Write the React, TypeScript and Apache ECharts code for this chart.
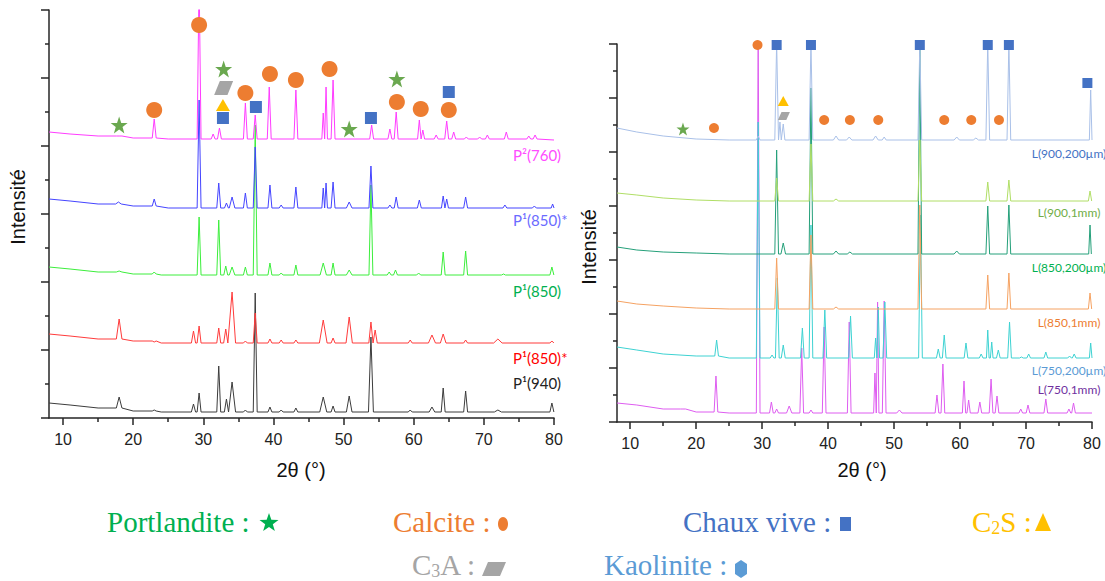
import React, { useEffect, useRef } from "react";
import * as echarts from "echarts";

// ---------------- axes ----------------
const X_TICKS = [10, 20, 30, 40, 50, 60, 70, 80];
const X_MINOR = [15, 25, 35, 45, 55, 65, 75];
const X_TITLE = "2θ (°)";
const Y_TITLE = "Intensité";

// ---------------- left panel (P samples) : [2θ, counts] ----------------
// peaks: [2θ, apex, halfWidth?]
const P940_BASE = [[8, 15], [11, 13], [15, 10], [20, 7], [24, 6], [80, 6]];
const P940_PEAKS = [
  [18.0, 21, 0.4], [23.0, 8], [28.6, 14, 0.3], [29.4, 25], [32.2, 52], [33.3, 19, 0.3],
  [34.1, 36, 0.5], [36.0, 8], [37.4, 125], [39.5, 11], [41.1, 8], [43.2, 10],
  [47.1, 21, 0.5], [48.5, 12], [50.8, 22, 0.4], [53.9, 81, 0.35], [59.5, 8],
  [62.6, 11, 0.4], [64.2, 30], [67.4, 27], [72.0, 8, 0.5], [79.7, 15],
];
const P850S_BASE = [[8, 84], [11, 82], [15, 79], [20, 77], [24, 75], [80, 75]];
const P850S_PEAKS = [
  [18.0, 99, 0.4], [23.0, 76], [28.6, 87, 0.3], [29.4, 92], [32.2, 90], [33.2, 89, 0.3],
  [34.1, 126, 0.5], [36.0, 77], [37.4, 105], [39.5, 79], [41.1, 78], [43.2, 78],
  [47.1, 98, 0.55], [48.5, 80], [50.8, 101, 0.45], [53.9, 96, 0.3], [54.5, 88, 0.3],
  [59.5, 78], [62.6, 83, 0.5], [64.2, 84, 0.4], [67.4, 78], [72.0, 79, 0.6], [79.7, 77],
];
const P850_BASE = [[8, 151], [11, 149], [15, 146], [20, 144], [24, 143], [80, 143]];
const P850_PEAKS = [
  [18.0, 147, 0.4], [23.0, 146], [29.4, 201], [32.2, 198], [33.2, 152], [34.1, 151, 0.4],
  [36.0, 151], [37.4, 293], [39.5, 155], [41.1, 145], [43.2, 153], [47.1, 155, 0.45],
  [48.5, 155], [50.8, 148, 0.4], [53.9, 233], [56.5, 146], [57.4, 148], [60.7, 145],
  [64.2, 166], [67.4, 167], [72.8, 144], [79.7, 151],
];
const P850B_BASE = [[8, 219], [11, 217], [15, 214], [20, 212], [25, 210], [80, 210]];
const P850B_PEAKS = [
  [17.9, 216, 0.4], [23.0, 219], [29.4, 318], [32.2, 235], [33.3, 215], [34.1, 221, 0.4],
  [36.0, 225], [37.4, 271], [39.5, 233], [41.1, 213], [43.2, 231], [47.1, 230, 0.2],
  [47.5, 235, 0.2], [48.5, 236], [50.8, 216, 0.4], [53.9, 252], [56.6, 213], [57.5, 221],
  [60.8, 218], [64.2, 222, 0.25], [64.7, 219, 0.25], [67.4, 221], [73.0, 213], [77.2, 212], [79.8, 214, 0.2],
];
const P760_BASE = [[8, 286], [11, 284], [15, 282], [20, 280], [25, 279], [80, 278]];
const P760_PEAKS = [
  [18.0, 282, 0.4], [23.0, 299], [29.4, 440], [31.4, 284], [32.3, 290], [36.0, 315],
  [37.4, 303], [39.4, 331], [43.2, 328], [47.1, 305, 0.2], [47.5, 331, 0.2], [48.5, 338],
  [54.0, 293], [56.6, 289], [57.5, 306], [60.8, 298, 0.25], [61.3, 288, 0.25], [63.2, 283],
  [64.7, 297], [65.7, 286], [67.5, 281], [69.4, 281], [70.5, 283], [73.2, 286], [76.4, 282], [77.3, 283],
];

const LEFT_NAMES = ["P¹(940)", "P¹(850)*", "P¹(850)", "P¹(850)*", "P²(760)"];
const LEFT_COLORS = ["#3c3c3c", "#ff3b3b", "#3cee3c", "#4444ff", "#ff3cff"];
const LEFT_LABEL_COLORS = ["#222222", "#ff0000", "#00b050", "#6b6bff", "#ff4dff"];

// markers (left): [2θ, counts]
const L_STAR = [[18.0, 293], [32.9, 349], [50.8, 289], [57.6, 339]];
const L_CIRCLE = [[23.0, 308], [29.4, 393], [36.0, 325], [39.5, 344], [43.2, 338], [48.0, 349], [57.6, 316], [61.0, 309], [65.0, 308]];
const L_SQUARE = [[32.8, 300], [37.5, 311], [53.9, 300], [65.0, 326]];
const L_TRI = [[32.8, 313]];
const L_PARA = [[32.9, 330]];

// ---------------- right panel (L samples) ----------------
const L750_1_BASE = [[8, 19], [11, 17], [15, 13], [20, 10], [25, 9], [80, 9]];
const L750_1_PEAKS = [
  [18.0, 13, 0.4], [23.0, 46], [29.4, 390], [31.4, 20], [32.2, 13], [34.1, 16, 0.4],
  [36.0, 74], [37.4, 12], [39.4, 95], [43.2, 100], [47.1, 49, 0.2], [47.5, 120, 0.2],
  [48.5, 121], [50.8, 12, 0.4], [56.5, 27], [57.4, 58], [60.6, 41, 0.25], [61.3, 22, 0.25],
  [63.0, 20], [64.7, 43], [65.6, 26], [69.2, 13], [70.3, 17], [73.0, 23], [76.5, 13], [77.2, 19],
];
const L750_2_BASE = [[8, 75], [11, 72], [15, 68], [20, 66], [25, 64], [80, 64]];
const L750_2_PEAKS = [
  [23.1, 82], [29.4, 300], [31.5, 67], [32.3, 144], [33.2, 77, 0.3], [36.1, 94],
  [37.4, 197], [39.5, 112], [43.4, 106], [47.2, 84, 0.2], [47.6, 115, 0.2], [48.6, 120],
  [54.0, 207], [56.7, 73], [57.6, 87], [60.9, 79], [63.2, 68], [64.2, 92, 0.2], [64.8, 80, 0.2],
  [65.8, 72], [67.5, 100], [69.3, 65], [70.4, 68], [73.0, 70], [76.6, 66], [77.3, 68], [79.8, 79, 0.2],
];
const L850_1_BASE = [[8, 121], [11, 118], [15, 116], [20, 114], [25, 113], [80, 113]];
const L850_1_PEAKS = [[32.2, 164], [37.4, 187], [41.2, 115, 0.4], [53.9, 217], [64.2, 147], [67.4, 149], [79.7, 129, 0.25]];
const L850_2_BASE = [[8, 175], [11, 172], [15, 170], [20, 169], [25, 168], [80, 168]];
const L850_2_PEAKS = [
  [32.2, 272], [33.2, 179, 0.35], [37.4, 334], [41.2, 171, 0.4], [43.3, 170, 0.4],
  [53.9, 375], [59.5, 171, 0.4], [64.2, 216], [67.4, 217], [79.7, 197, 0.2],
];
const L900_1_BASE = [[8, 229], [11, 227], [15, 224], [20, 222], [25, 221], [80, 221]];
const L900_1_PEAKS = [[32.2, 244], [37.4, 278], [41.2, 223, 0.4], [53.9, 282], [64.2, 240], [67.4, 242], [79.7, 231, 0.25]];
const L900_2_BASE = [[8, 294], [11, 290], [15, 286], [20, 283], [25, 282], [80, 282]];
const L900_2_PEAKS = [
  [29.4, 286], [32.2, 380], [32.7, 300, 0.2], [33.2, 298, 0.25], [37.4, 380], [41.2, 286, 0.4],
  [43.2, 285, 0.4], [47.2, 286, 0.4], [48.5, 285, 0.3], [53.9, 380], [59.5, 285, 0.4],
  [62.4, 284, 0.4], [64.2, 380], [67.4, 380], [79.8, 332, 0.2],
];

const RIGHT_NAMES = ["L(750,1mm)", "L(750,200µm)", "L(850,1mm)", "L(850,200µm)", "L(900,1mm)", "L(900,200µm)"];
const RIGHT_COLORS = ["#de5df0", "#3ed2d2", "#f5a262", "#25a07a", "#b0de66", "#a9c0e8"];
const RIGHT_LABEL_COLORS = ["#7030a0", "#5b9bd5", "#ed7d31", "#00b050", "#70ad47", "#4472c4"];

const R_STAR = [[18.0, 293]];
const R_CIRCLE = [[22.7, 294], [29.3, 377], [39.4, 302], [43.3, 302], [47.6, 302], [57.6, 302], [61.7, 302], [65.9, 302]];
const R_SQUARE = [[32.2, 377], [37.4, 377], [53.9, 377], [64.2, 377], [67.4, 377], [79.3, 339]];
const R_TRI = [[33.2, 321]];
const R_PARA = [[33.3, 306]];

// ---------------- legend ----------------
const LEGEND = [
  { text: "Portlandite : ", color: "#00b050" },
  { text: "Calcite : ", color: "#ed7d31" },
  { text: "Chaux vive : ", color: "#4472c4" },
  { text: "{a|C}{b|2}{a|S : }", color: "#ffc000" },
  { text: "{a|C}{b|3}{a|A : }", color: "#a5a5a5" },
  { text: "Kaolinite : ", color: "#5b9bd5" },
];

function buildTrace(base: number[][], peaks: number[][], w0: number): number[][] {
  const sorted = peaks.slice().sort((a, b) => a[0] - b[0]);
  const out: number[][] = [];
  let bi = 0;
  let foot = base[0][1];
  const flushTo = (x: number) => {
    while (bi < base.length && base[bi][0] <= x) {
      out.push(base[bi]);
      foot = base[bi][1];
      bi++;
    }
  };
  for (const p of sorted) {
    const w = p[2] !== undefined ? p[2] : w0;
    flushTo(p[0] - w);
    out.push([p[0] - w, foot], [p[0], p[1]], [p[0] + w, foot]);
  }
  flushTo(Infinity);
  return out;
}

const STAR_PATH =
  "path://M0,-10L2.35,-3.09L9.51,-3.09L3.8,1.18L5.88,8.09L0,3.82L-5.88,8.09L-3.8,1.18L-9.51,-3.09L-2.35,-3.09Z";
const PARA_PATH = "path://M30,0L100,0L70,60L0,60Z";

const AXIS_COLOR = "#262626";
const SANS = "'Liberation Sans', Arial, sans-serif";
const LABEL_FONT = "Lato, 'Open Sans', sans-serif";
const SERIF = "'Liberation Serif', 'DejaVu Serif', serif";

function starPoints(cx: number, cy: number, r: number): number[][] {
  const pts: number[][] = [];
  for (let i = 0; i < 10; i++) {
    const rr = i % 2 === 0 ? r : r * 0.4;
    const a = -Math.PI / 2 + (i * Math.PI) / 5;
    pts.push([cx + rr * Math.cos(a), cy + rr * Math.sin(a)]);
  }
  return pts;
}

export default function App() {
  const ref = useRef<HTMLDivElement>(null);
  useEffect(() => {
    if (!ref.current) return;
    const chart = echarts.init(ref.current, undefined, { renderer: "svg" });

    const xAxisMain = (gi: number) => ({
      type: "value",
      gridIndex: gi,
      min: 8,
      max: 80,
      position: "bottom",
      axisLine: { onZero: false, lineStyle: { color: AXIS_COLOR, width: 1.5 } },
      axisTick: { customValues: X_TICKS, length: 7, lineStyle: { color: AXIS_COLOR, width: 1.5 } },
      axisLabel: { customValues: X_TICKS, fontSize: 16, color: "#222", margin: 13, fontFamily: SANS },
      splitLine: { show: false },
    });
    const xAxisMinor = (gi: number) => ({
      type: "value",
      gridIndex: gi,
      min: 8,
      max: 80,
      position: "bottom",
      axisLine: { show: false, onZero: false },
      axisTick: { customValues: X_MINOR, length: 4, lineStyle: { color: AXIS_COLOR, width: 1.5 } },
      axisLabel: { show: false },
      splitLine: { show: false },
    });
    const yAxis = (gi: number, max: number, interval: number) => ({
      type: "value",
      gridIndex: gi,
      min: 0,
      max,
      interval,
      axisLine: { show: true, onZero: false, lineStyle: { color: AXIS_COLOR, width: 1.5 } },
      axisTick: { show: true, length: 8, lineStyle: { color: AXIS_COLOR, width: 1.5 } },
      minorTick: { show: true, splitNumber: 2, length: 4, lineStyle: { color: AXIS_COLOR, width: 1.5 } },
      axisLabel: { show: false },
      splitLine: { show: false },
    });

    const leftTraces = [
      buildTrace(P940_BASE, P940_PEAKS, 0.28),
      buildTrace(P850S_BASE, P850S_PEAKS, 0.28),
      buildTrace(P850_BASE, P850_PEAKS, 0.28),
      buildTrace(P850B_BASE, P850B_PEAKS, 0.28),
      buildTrace(P760_BASE, P760_PEAKS, 0.28),
    ];
    const rightTraces = [
      buildTrace(L750_1_BASE, L750_1_PEAKS, 0.28),
      buildTrace(L750_2_BASE, L750_2_PEAKS, 0.28),
      buildTrace(L850_1_BASE, L850_1_PEAKS, 0.28),
      buildTrace(L850_2_BASE, L850_2_PEAKS, 0.28),
      buildTrace(L900_1_BASE, L900_1_PEAKS, 0.28),
      buildTrace(L900_2_BASE, L900_2_PEAKS, 0.28),
    ];

    const lineSeries: any[] = [];
    leftTraces.forEach((d, i) =>
      lineSeries.push({
        type: "line",
        name: LEFT_NAMES[i] + i,
        xAxisIndex: 0,
        yAxisIndex: 0,
        data: d,
        showSymbol: false,
        clip: true,
        lineStyle: { color: LEFT_COLORS[i], width: 1 },
        itemStyle: { color: LEFT_COLORS[i] },
      })
    );
    rightTraces.forEach((d, i) =>
      lineSeries.push({
        type: "line",
        name: RIGHT_NAMES[i],
        xAxisIndex: 2,
        yAxisIndex: 1,
        data: d,
        showSymbol: false,
        clip: true,
        lineStyle: { color: RIGHT_COLORS[i], width: 1 },
        itemStyle: { color: RIGHT_COLORS[i] },
      })
    );

    const sc = (xi: number, yi: number, data: number[][], symbol: string, size: any, color: string) => ({
      type: "scatter",
      xAxisIndex: xi,
      yAxisIndex: yi,
      data,
      symbol,
      symbolSize: size,
      clip: false,
      z: 5,
      itemStyle: { color, opacity: 1 },
    });
    const ORANGE = "#ed7d31";
    const BLUE = "#4472c4";
    const GREEN = "#6aa84f";
    const YELLOW = "#ffc000";
    const GRAY = "#a5a5a5";
    const markerSeries = [
      sc(0, 0, L_STAR, STAR_PATH, 17, GREEN),
      sc(0, 0, L_CIRCLE, "circle", 16, ORANGE),
      sc(0, 0, L_SQUARE, "rect", 12, BLUE),
      sc(0, 0, L_TRI, "triangle", [14, 12], YELLOW),
      sc(0, 0, L_PARA, PARA_PATH, [19, 14], GRAY),
      sc(2, 1, R_STAR, STAR_PATH, 13, GREEN),
      sc(2, 1, R_CIRCLE, "circle", 10, ORANGE),
      sc(2, 1, R_SQUARE, "rect", 10, BLUE),
      sc(2, 1, R_TRI, "triangle", [11, 10], YELLOW),
      sc(2, 1, R_PARA, PARA_PATH, [12, 8], GRAY),
    ];

    const graphics: any[] = [];
    // axis titles
    [[18, 207], [589, 247]].forEach(([x, y]) =>
      graphics.push({
        type: "text",
        x,
        y,
        rotation: Math.PI / 2,
        style: { text: Y_TITLE, fill: "#111", font: `20px ${SANS}`, textAlign: "center", textVerticalAlign: "middle" },
      })
    );
    [[301, 470], [862, 470]].forEach(([x, y]) =>
      graphics.push({
        type: "text",
        x,
        y,
        style: { text: X_TITLE, fill: "#111", font: `20px ${SANS}`, textAlign: "center", textVerticalAlign: "middle" },
      })
    );

    // series labels
    const leftLabelY = [383, 358, 291, 220, 155];
    const rightLabelY = [389, 370, 322, 267, 212, 153];
    LEFT_NAMES.forEach((n, i) =>
      graphics.push({
        type: "text",
        x: 513,
        y: leftLabelY[i],
        style: { text: n, fill: LEFT_LABEL_COLORS[i], font: `15px ${LABEL_FONT}`, textAlign: "left", textVerticalAlign: "middle" },
      })
    );
    RIGHT_NAMES.forEach((n, i) =>
      graphics.push({
        type: "text",
        x: 1069,
        y: rightLabelY[i],
        style: { text: n, fill: RIGHT_LABEL_COLORS[i], font: `12px ${LABEL_FONT}`, textAlign: "center", textVerticalAlign: "middle" },
      })
    );

    // legend at bottom
    const legendPos = [
      [107, 522], [393, 522], [683, 522], [972, 522], [412, 565], [604, 565],
    ];
    LEGEND.forEach((l, i) => {
      const rich = {
        a: { fontSize: 29, fontFamily: SERIF, fill: l.color },
        b: { fontSize: 18, fontFamily: SERIF, fill: l.color, verticalAlign: "bottom" },
      };
      graphics.push({
        type: "text",
        x: legendPos[i][0],
        y: legendPos[i][1],
        style: {
          text: l.text,
          fill: l.color,
          font: `29px ${SERIF}`,
          rich,
          textAlign: "left",
          textVerticalAlign: "middle",
        },
      });
    });
    graphics.push({ type: "polygon", shape: { points: starPoints(269, 523, 10) }, style: { fill: "#00b050" } });
    graphics.push({ type: "ellipse", shape: { cx: 503, cy: 524, rx: 5, ry: 7 }, style: { fill: ORANGE } });
    graphics.push({ type: "rect", shape: { x: 840, y: 517, width: 11, height: 14 }, style: { fill: BLUE } });
    graphics.push({ type: "polygon", shape: { points: [[1043, 513], [1051, 531], [1035, 531]] }, style: { fill: YELLOW } });
    graphics.push({ type: "polygon", shape: { points: [[488, 562], [506, 562], [500, 576], [482, 576]] }, style: { fill: GRAY } });
    graphics.push({
      type: "polygon",
      shape: { points: [[741, 560], [747, 564], [747, 574], [741, 578], [735, 574], [735, 564]] },
      style: { fill: "#5b9bd5" },
    });

    chart.setOption({
      animation: false,
      backgroundColor: "#ffffff",
      textStyle: { fontFamily: SANS },
      grid: [
        { left: 49, top: 10, width: 505, height: 408 },
        { left: 617, top: 44, width: 475, height: 378 },
      ],
      xAxis: [xAxisMain(0), xAxisMinor(0), xAxisMain(1), xAxisMinor(1)],
      yAxis: [yAxis(0, 408, 68), yAxis(1, 378, 54)],
      series: [...lineSeries, ...markerSeries],
      graphic: graphics,
    });
    return () => chart.dispose();
  }, []);
  return <div ref={ref} style={{ position: "fixed", left: 0, top: 0, width: 1105, height: 581 }} />;
}
